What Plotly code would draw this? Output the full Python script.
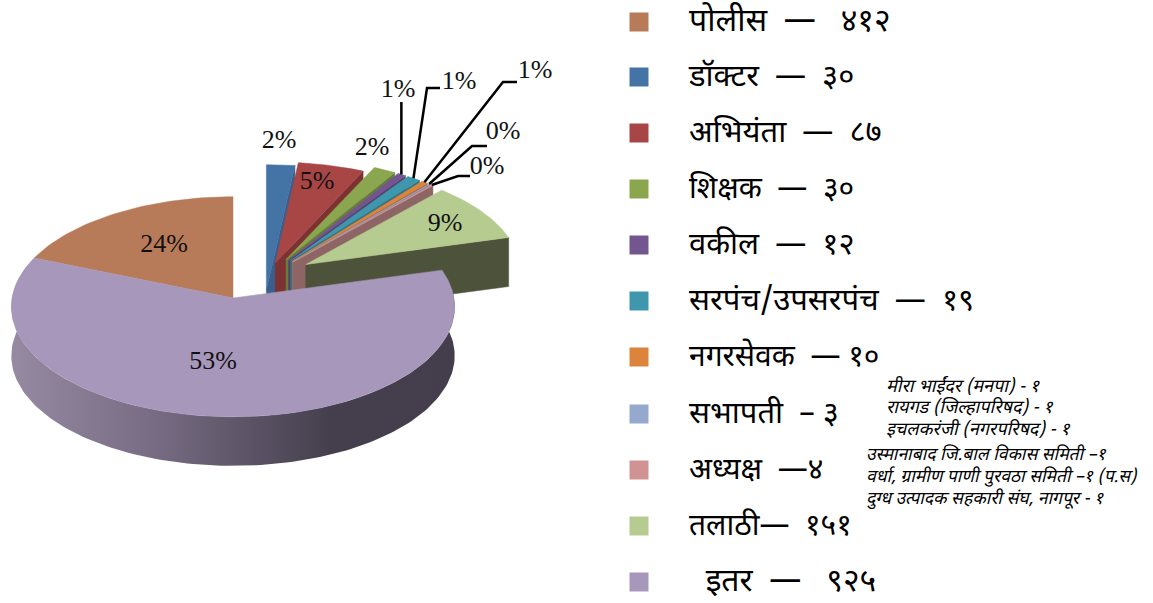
import numpy as np
import plotly.graph_objects as go

# ---------- data ----------
labels = ["पोलीस  —   ४१२", "डॉक्टर  —  ३०", "अभियंता  —  ८७", "शिक्षक  —  ३०", "वकील  —  १२",
          "सरपंच/उपसरपंच  —  १९", "नगरसेवक  — १०", "सभापती  – ३", "अध्यक्ष  —४", "तलाठी—  १५१", "  इतर  —   ९२५"]
values = [412, 30, 87, 30, 12, 19, 10, 3, 4, 151, 925]
percent_labels = ["24%", "2%", "5%", "2%", "1%", "1%", "1%", "0%", "0%", "9%", "53%"]
notes_a = ["मीरा भाईंदर (मनपा) - १", "रायगड (जिल्हापरिषद) - १", "इचलकरंजी (नगरपरिषद) - १"]
notes_b = ["उस्मानाबाद जि.बाल विकास समिती –१", "वर्धा, ग्रामीण पाणी पुरवठा समिती –१ (प.स)", "दुग्ध उत्पादक सहकारी संघ, नागपूर - १"]

# ---------- style ----------
colors = ["#b87b59", "#4473a5", "#a84545", "#8aa74f", "#73568f", "#3f97ad", "#dc843c", "#95a9cf", "#d09292", "#b6cb90", "#a798bb"]
walls = ["#8a5c42", "#3a5f8c", "#7d3232", "#677d3a", "#563f6c", "#2f7182", "#a5622c", "#6f7f9b", "#8e6565", "#4d533a", "#4a4452"]
pulls = [0, -.13, .12, .17, .17, .17, .17, .17, .17, .2, 0]
radii = [1, 1.27, 1, 1, 1, 1, 1, 1, 1, .97, 1]
CX, CY, R, RY, P = 233, 298, 221, 110, .08
DEPTH = 49
GROUP = (35, -22)
label_pos = [(164, 245), (279, 141), (317, 182), (372, 148), (398, 90), (459, 82), (535, 71), (503, 132), (487, 167), (445, 224), (213, 362)]
elbows = {4: [(None, 102)], 5: [(440, 88), (427, 88)], 6: [(517, 82), (503, 82)], 7: [(487, 146), (472, 146)], 8: [(470, 176), (458, 176)]}
leg_y = [22, 77, 133, 189, 245, 301, 357, 414, 470, 526, 582]
leg_sizes = [32, 31, 31, 30, 31, 31, 30, 31, 30, 30, 32]


def proj(deg, r=1.0, dx=0.0, dy=0.0, dz=0.0):
    t = np.radians(deg)
    u, v = r * np.sin(t), -r * np.cos(t)
    w = 1 + P * v
    return CX + R * u * w + dx, CY + RY * v * w + dy + dz


# cumulative angles: first slice ends at 12 o'clock; perspective widens the front
frac = np.array(values, float) / sum(values)
edges = np.concatenate([[0], np.cumsum(frac)]) * 360 - frac[0] * 360
front = np.interp(edges, [edges[0], 0, edges[-2], edges[-1]], [-68, 0, edges[-2] + 1, 292])

fig = go.Figure()


def poly(x, y, color, **kw):
    fig.add_trace(go.Scatter(x=list(x) + [x[0]], y=list(y) + [y[0]], mode="lines", fill="toself",
                             fillcolor=color, line=dict(color=color, width=0.5), hoverinfo="skip", showlegend=False, **kw))


def wedge_xy(i, dx, dy):
    a = np.linspace(front[i], front[i + 1], 40)
    x, y = proj(a, radii[i], dx, dy)
    ax, ay = proj(0, 0, dx, dy)
    return np.r_[ax, x], np.r_[ay, y]


anchors = {}
for i in range(1, 10):
    mid = np.radians((front[i] + front[i + 1]) / 2)
    dx = GROUP[0] + pulls[i] * R * np.sin(mid)
    dy = GROUP[1] - pulls[i] * RY * np.cos(mid)
    ax, ay = proj(0, 0, dx, dy)
    ex, ey = proj(front[i + 1], radii[i], dx, dy)
    poly([ax, ex, ex, ax], [ay, ey, ey + DEPTH, ay + DEPTH], walls[i])
    x, y = wedge_xy(i, dx, dy)
    poly(x, y, colors[i])
    anchors[i] = proj((front[i] + front[i + 1]) / 2, radii[i], dx, dy)

# first slice
x, y = wedge_xy(0, 0, 0)
poly(x, y, colors[0])

# last slice: side with gradient, then top
a = np.linspace(front[10], front[11], 160)
tx, ty = proj(a)
bx, by = proj(a, 1, 0, 0, DEPTH)
fig.add_trace(go.Scatter(x=np.r_[tx, bx[::-1], tx[0]], y=np.r_[ty, by[::-1], ty[0]], mode="lines", fill="toself",
                         line=dict(width=0, color="#6b6178"), hoverinfo="skip", showlegend=False,
                         fillgradient=dict(type="horizontal", colorscale=[[0, "#968aa3"], [.3, "#7a6e86"], [.55, "#5a5264"], [.72, "#453f4d"], [1, "#443e4c"]])))
x, y = wedge_xy(10, 0, 0)
poly(x, y, colors[10])

# leader lines
for i, pts in elbows.items():
    ax, ay = anchors[i]
    xs = [ax if p[0] is None else p[0] for p in pts] + [ax]
    ys = [p[1] for p in pts] + [ay]
    fig.add_trace(go.Scatter(x=xs, y=ys, mode="lines", line=dict(color="#000", width=2.5), hoverinfo="skip", showlegend=False))

# percent labels
fig.add_trace(go.Scatter(x=[p[0] for p in label_pos], y=[p[1] for p in label_pos], mode="text", text=percent_labels,
                         textfont=dict(family="Liberation Serif", size=26, color="#111"), textposition="middle center",
                         hoverinfo="skip", showlegend=False))

# legend
fig.add_trace(go.Scatter(x=[639] * 11, y=leg_y, mode="markers", marker=dict(symbol="square", size=19, color=colors),
                         hoverinfo="skip", showlegend=False))
DEV = "Noto Sans Devanagari, Lohit Devanagari, Noto Sans, DejaVu Sans, sans-serif"
fig.add_trace(go.Scatter(x=[689] * 11, y=[v + 1 for v in leg_y], mode="text", text=labels, textposition="middle right",
                         textfont=dict(family=DEV, size=leg_sizes, color="#000"), hoverinfo="skip", showlegend=False))
fig.add_trace(go.Scatter(x=[886] * 3, y=[387, 408, 430], mode="text", text=[f"<i>{s}</i>" for s in notes_a], textposition="middle right",
                         textfont=dict(family=DEV, size=18, color="#000"), hoverinfo="skip", showlegend=False))
fig.add_trace(go.Scatter(x=[866] * 3, y=[456, 478, 500], mode="text", text=[f"<i>{s}</i>" for s in notes_b], textposition="middle right",
                         textfont=dict(family=DEV, size=17.5, color="#000"), hoverinfo="skip", showlegend=False))

fig.update_layout(width=1153, height=603, margin=dict(l=0, r=0, t=0, b=0), paper_bgcolor="white", plot_bgcolor="white",
                  showlegend=False,
                  xaxis=dict(range=[0, 1153], visible=False, fixedrange=True),
                  yaxis=dict(range=[603, 0], visible=False, fixedrange=True))
fig.write_html("out.html", config={"displayModeBar": False}, post_script="document.body.style.margin='0';")
